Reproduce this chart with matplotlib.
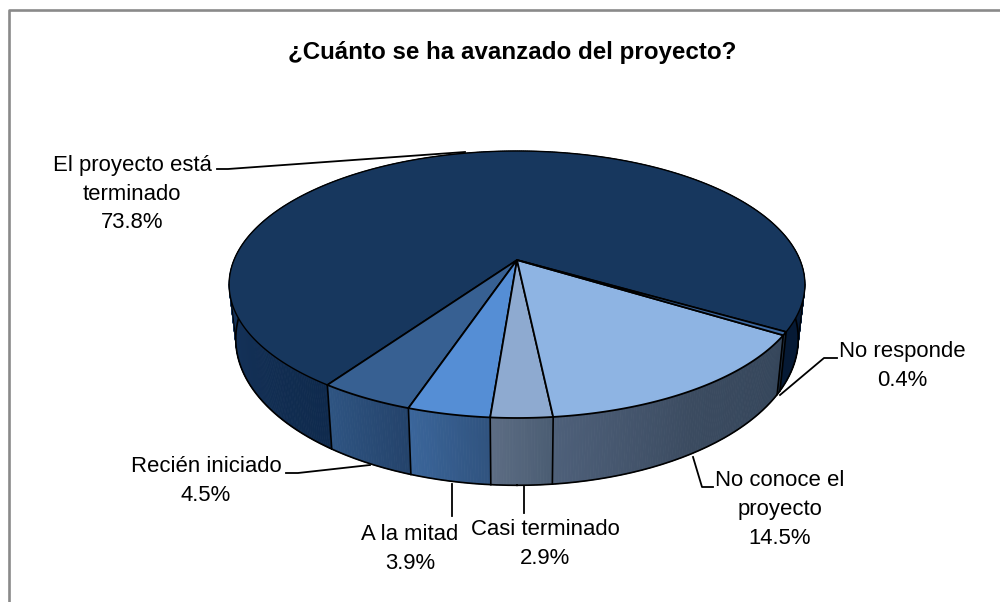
"""Pie chart with perspective depth: avance del proyecto."""
import numpy as np
import matplotlib
matplotlib.use('Agg')
import matplotlib.pyplot as plt
from matplotlib.colors import LinearSegmentedColormap
from matplotlib.collections import PolyCollection

plt.rcParams['font.family'] = ['Liberation Sans', 'DejaVu Sans']

title = '¿Cuánto se ha avanzado del proyecto?'
categories = ['El proyecto está\nterminado', 'Recién iniciado', 'A la mitad',
              'Casi terminado', 'No conoce el\nproyecto', 'No responde']
values = [73.8, 4.5, 3.9, 2.9, 14.5, 0.4]

# angle of the first slice, counted from the front going to the right
START_ANGLE = 59.64

top_colors = ['#17375E', '#376092', '#558ED5', '#8EAAD0', '#8EB4E3', '#3F6CA5']
side_colors = [
    [(0, '#061a35'), (0.6, '#061a35'), (0.66, '#17365f'), (0.79, '#17365f'), (1, '#0f2a4d')],
    [(0, '#2f5583'), (1, '#24436b')],
    [(0, '#3b669b'), (1, '#30537f')],
    [(0, '#5d6d84'), (1, '#4b5d73')],
    [(0, '#4e607a'), (0.5, '#3b4b60'), (1, '#35465b')],
    [(0, '#1e3045'), (1, '#1e3045')],
]

# projection of the disc, in picture pixels
CX, CY_TOP, CY_BOTTOM = 517, 260, 312
RX, RY_TOP, RY_BOTTOM = 283, 129, 141.5
BOTTOM_SCALE = 0.977
K = 0.1835


def project(angle, level='top'):
    """Angle in degrees to picture coordinates on the top or bottom rim."""
    t = np.radians(angle)
    u, v = np.sin(t), -np.cos(t)
    den = 1 + K * v
    if level == 'top':
        return CX + RX * u / den, CY_TOP - RY_TOP * v / den
    return CX + BOTTOM_SCALE * RX * u / den, CY_BOTTOM - RY_BOTTOM * v / den


fig = plt.figure(figsize=(10, 6.02), dpi=100)
ax = fig.add_axes([0, 0, 1, 1])
ax.set_xlim(0, 1000)
ax.set_ylim(602, 0)
ax.axis('off')

# chart frame, cut by the picture on the right and at the bottom
ax.plot([8.5, 8.5, 1000], [602, 10, 10], color='#8a8a8a', lw=1.9, zorder=1)

edges = START_ANGLE + np.cumsum([0] + [v * 3.6 for v in values])

# side wall first, the top disc hides the part at the back
for i in range(len(values)):
    cmap = LinearSegmentedColormap.from_list('side', side_colors[i])
    steps = max(int(edges[i + 1] - edges[i]) * 2, 4)
    angles = np.linspace(edges[i], edges[i + 1], steps + 1)
    xt, yt = project(angles)
    xb, yb = project(angles, 'bottom')
    quads = [[(xt[j], yt[j]), (xt[j + 1], yt[j + 1]), (xb[j + 1], yb[j + 1]), (xb[j], yb[j])]
             for j in range(steps)]
    cols = [cmap((j + 0.5) / steps) for j in range(steps)]
    ax.add_collection(PolyCollection(quads, facecolors=cols, edgecolors=cols, linewidths=0.6, zorder=2))

# outline of the wall
all_angles = np.linspace(0, 360, 721)
xb, yb = project(all_angles, 'bottom')
xt, yt = project(all_angles)
ax.plot(xb, yb, color='black', lw=1.2, zorder=3)
for pick in (np.argmin, np.argmax):
    ax.plot([xt[pick(xt)], xb[pick(xb)]], [yt[pick(xt)], yb[pick(xb)]], color='black', lw=0.7, zorder=3)
for a in edges[:-1]:
    xa, ya = project(a)
    xc, yc = project(a, 'bottom')
    ax.plot([xa, xc], [ya, yc], color='black', lw=1.2, zorder=3)

# top disc
for i in range(len(values)):
    angles = np.linspace(edges[i], edges[i + 1], max(int(edges[i + 1] - edges[i]) * 2, 4))
    x, y = project(angles)
    ax.fill(np.r_[CX, x], np.r_[CY_TOP, y], facecolor=top_colors[i], edgecolor='black',
            lw=1.3 if values[i] < 50 else 1.0, joinstyle='round', zorder=4 if values[i] > 50 else 5)

# leader lines
leaders = [
    ([217, 228, 465], [169, 169, 152]),
    ([286, 298, 370], [473, 473, 465]),
    ([452, 452], [484, 516]),
    ([524, 524], [486, 513]),
    ([693, 702, 713], [457, 487, 487]),
    ([780, 824, 837], [395, 358, 358]),
]
for lx, ly in leaders:
    ax.plot(lx, ly, color='black', lw=1.3, zorder=6)

# labels
label_pos = [(132, 194), (206, 481), (410, 549), (545, 544), (780, 510), (902, 366)]
for name, val, (tx, ty) in zip(categories, values, label_pos):
    ax.text(tx, ty, f'{name}\n{val}%', ha='center', va='center', fontsize=15.9,
            linespacing=1.5, color='black', zorder=7)

ax.text(512, 53, title, ha='center', va='center', fontsize=17.4, fontweight='bold', color='black')

fig.savefig('out.png', dpi=100)
